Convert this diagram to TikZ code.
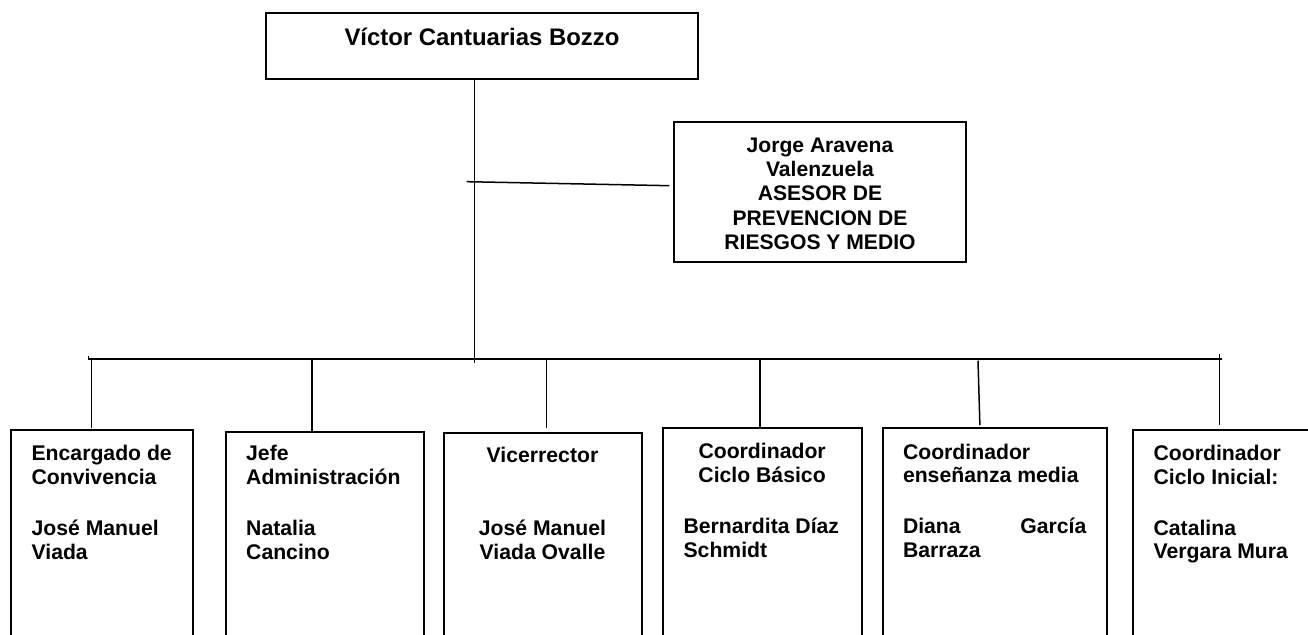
\documentclass[tikz,border=0pt]{standalone}
\usepackage{fontspec}
\setmainfont{Liberation Sans}
\begin{document}
\begin{tikzpicture}[x=0.5pt,y=-0.5pt,
  box/.style={draw,line width=1pt,outer sep=0pt,inner sep=0pt,anchor=north west},
  conn/.style={line width=0.75pt},
  txt/.style={inner sep=0pt,outer sep=0pt,font=\bfseries\fontsize{10.6pt}{11.85pt}\selectfont}]
\useasboundingbox (0,0) rectangle (1308,635);
\clip (0,0) rectangle (1308,635);

% boxes
\node[box,minimum width=216.3pt,minimum height=33pt] (top) at (265.7,13.3) {};
\node[box,minimum width=146pt,minimum height=70.3pt] (side) at (674,121.7) {};
\node[box,minimum width=91.15pt,minimum height=115pt] (b1) at (10.5,430) {};
\node[box,minimum width=99.1pt,minimum height=114pt] (b2) at (226,432) {};
\node[box,minimum width=99.15pt,minimum height=113.65pt] (b3) at (444,432.7) {};
\node[box,minimum width=99.7pt,minimum height=115.85pt] (b4) at (662.6,428.3) {};
\node[box,minimum width=112.25pt,minimum height=115.85pt] (b5) at (882.9,428.3) {};
\node[box,minimum width=100pt,minimum height=115pt] (b6) at (1132.7,430) {};

% texts (base anchor = baseline of the last line)
\node[txt,font=\bfseries\fontsize{11.95pt}{14pt}\selectfont,anchor=base] (t0) at (482,45.7) {Víctor Cantuarias Bozzo};
\node[txt,font=\bfseries\fontsize{10.55pt}{12.1pt}\selectfont,align=center,anchor=base] (ts) at (820,249.3)
  {Jorge Aravena\\Valenzuela\\ASESOR DE\\PREVENCION DE\\RIESGOS Y MEDIO};
\node[txt,align=left,anchor=base west] (t1) at (31.6,559.1)
  {Encargado de\\Convivencia\\[13.65pt]José Manuel\\Viada};
\node[txt,align=left,anchor=base west] (t2) at (246.2,559.1)
  {Jefe\\Administración\\[13.65pt]Natalia\\Cancino};
\node[txt,align=center,anchor=base] (t3) at (542.5,559.7)
  {Vicerrector\\[24.9pt]José Manuel\\Viada Ovalle};
\node[txt,align=left,anchor=base west] (t4) at (683.6,557.2)
  {\makebox[78.5pt]{Coordinador}\\\makebox[78.5pt]{Ciclo Básico}\\[13.65pt]Bernardita Díaz\\Schmidt};
\node[txt,align=left,anchor=base west] (t5) at (903,557.5)
  {Coordinador\\enseñanza media\\[13.65pt]\makebox[91.7pt][s]{Diana\hfill García}\\Barraza};
\node[txt,align=left,anchor=base west] (t6) at (1153.6,559)
  {Coordinador\\Ciclo Inicial:\\[13.65pt]Catalina\\Vergara Mura};

% connectors
\coordinate (bL) at (88.4,359);
\coordinate (bR) at (1221.7,359);
\coordinate (bC) at (474.3,363);
\coordinate (sA) at (466.7,181.7);
\coordinate (d1) at (91.3,359);
\coordinate (d2) at (311.9,359);
\coordinate (d3) at (546.3,359);
\coordinate (d4) at (760,359);
\coordinate (d5) at (978,360.7);
\coordinate (d5e) at (980,425);
\coordinate (d6) at (1219.5,354);

\draw[conn] (top.south -| bC) -- (bC);
\draw[conn] (sA) -- ([xshift=-2.35pt,yshift=3.15pt]side.west);
\draw[conn] (bL) -- (bR);
\draw[conn] (bL) -- ++(0,-3);
\draw[conn,shorten >=1pt] (d1) -- (d1 |- b1.north);
\draw[conn,shorten >=0.5pt] (d2) -- (d2 |- b2.north);
\draw[conn,shorten >=2.35pt] (d3) -- (d3 |- b3.north);
\draw[conn] (d4) -- (d4 |- b4.north);
\draw[conn,shorten >=1.65pt] (d5) -- (b5.north -| d5e);
\draw[conn,shorten >=2.5pt] (d6) -- (d6 |- b6.north);
\end{tikzpicture}
\end{document}
